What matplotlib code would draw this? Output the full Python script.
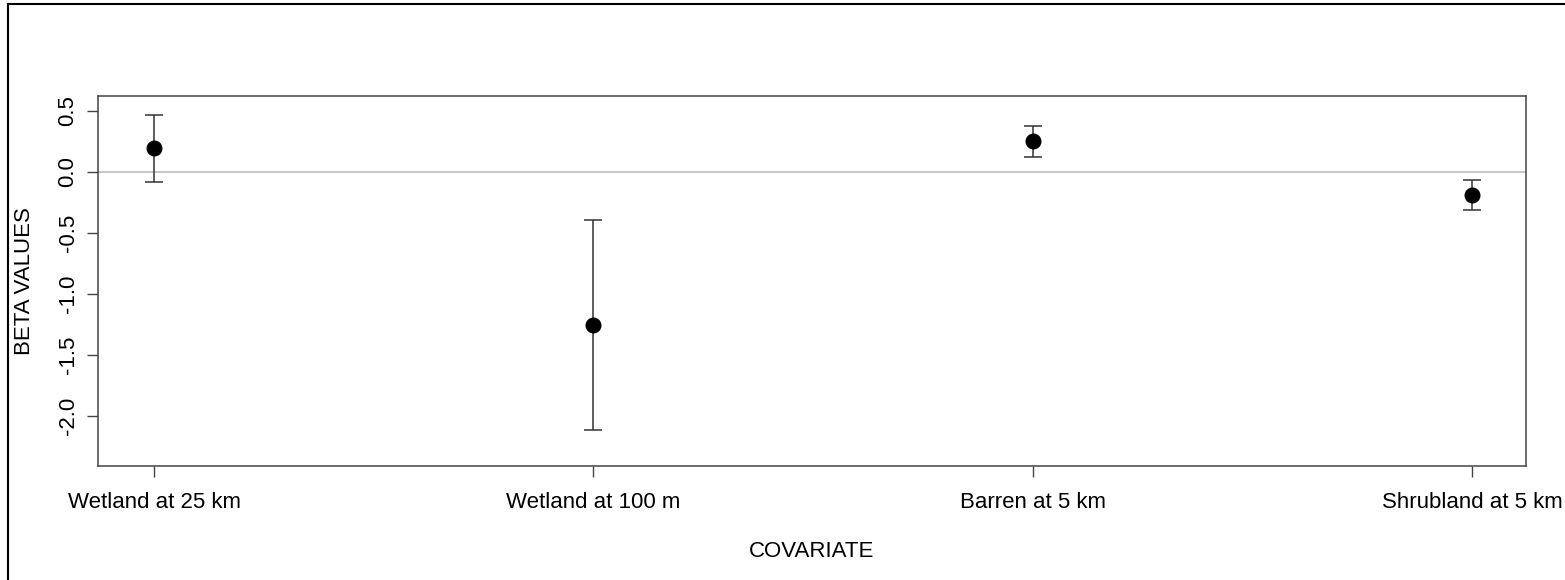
import matplotlib
matplotlib.use("Agg")
import matplotlib.pyplot as plt
from matplotlib.lines import Line2D

plt.rcParams['font.family'] = ['Liberation Sans', 'DejaVu Sans']

categories = ["Wetland at 25 km", "Wetland at 100 m", "Barren at 5 km", "Shrubland at 5 km"]
beta = [0.197, -1.254, 0.254, -0.189]
lower = [-0.082, -2.115, 0.123, -0.311]
upper = [0.467, -0.393, 0.377, -0.066]
yticks = [0.5, 0.0, -0.5, -1.0, -1.5, -2.0]

fig = plt.figure(figsize=(15.65, 5.8), dpi=100)
ax = fig.add_axes([98/1565, 1 - 466/580, 1428/1565, 370/580])

x = list(range(1, len(categories) + 1))
yerr = [[b - l for b, l in zip(beta, lower)], [u - b for u, b in zip(upper, beta)]]

ax.axhline(0, color='#c8c8c8', lw=1.5, zorder=1)
ax.errorbar(x, beta, yerr=yerr, fmt='none', ecolor='#333333', elinewidth=1.1,
            capsize=6.5, capthick=1.1, zorder=2)
ax.plot(x, beta, 'o', color='black', markersize=10.5, zorder=3)

ax.set_xlim(0.872, 4.123)
ax.set_ylim(-2.41, 0.623)
ax.set_xticks(x)
ax.set_xticklabels(categories, fontsize=16)
ax.set_yticks(yticks)
ax.set_yticklabels([f"{v:.1f}" for v in yticks], fontsize=16, rotation=90, va='center')
ax.tick_params(axis='both', direction='out', length=8, width=1, color='#444444')
ax.tick_params(axis='y', pad=6)
ax.tick_params(axis='x', pad=11)
for s in ax.spines.values():
    s.set_color('#444444')
    s.set_linewidth(1.1)

ax.set_xlabel("COVARIATE", fontsize=16, labelpad=20)
ax.set_ylabel("BETA VALUES", fontsize=16, labelpad=16)

# figure frame (left and top edges)
fig.add_artist(Line2D([8/1565, 8/1565], [0, 1 - 4/580], transform=fig.transFigure, color='black', lw=1.5))
fig.add_artist(Line2D([8/1565, 1], [1 - 4/580, 1 - 4/580], transform=fig.transFigure, color='black', lw=1.5))

fig.savefig("out.png", dpi=100)
